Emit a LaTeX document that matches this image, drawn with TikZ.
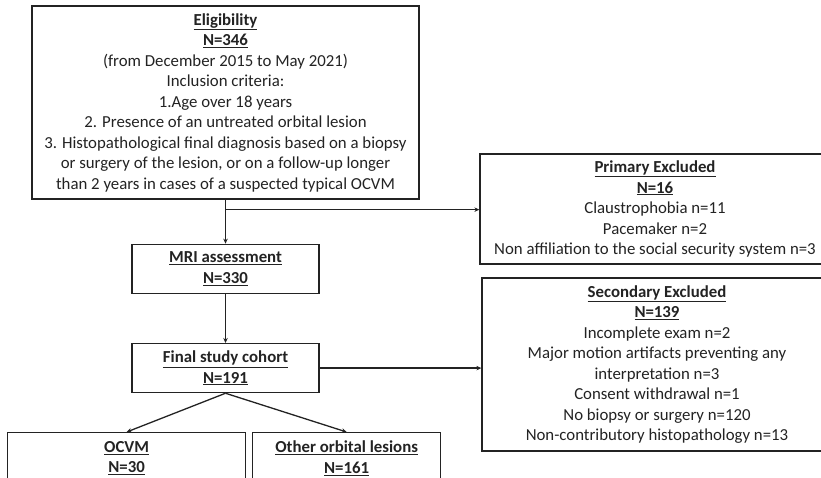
\documentclass[tikz,border=0pt]{standalone}
\usepackage{fontspec}
\setmainfont{Carlito}
\usetikzlibrary{arrows.meta,positioning,calc}
\definecolor{ink}{RGB}{35,35,35}
\tikzset{
  every picture/.style={color=ink, line width=1.3pt},
  box/.style={draw=ink, fill=white, inner sep=2pt, align=center, font=\fontsize{16.8}{20.5}\selectfont},
  stage/.style={box, minimum width=187pt, minimum height=49pt},
  excl/.style={box, minimum width=350pt},
  branch/.style={box, anchor=north west, minimum height=51pt},
  flow/.style={-{Stealth[length=5pt,width=4.5pt]}, line width=1.3pt},
}
\newcommand{\head}[1]{\underline{\textbf{#1}}}

\begin{document}
\begin{tikzpicture}[x=1pt, y=-1pt]
  \useasboundingbox (0,0) rectangle (821,478);
  \clip (0,0) rectangle (821,478);
  % main chain down the left side
  \node[box, minimum width=387pt, minimum height=193pt] (elig) at (225.5,102.5) {\head{Eligibility}\\ \head{N=346}\\ (from December 2015 to May 2021)\\ Inclusion criteria:\\ 1.Age over 18 years\\ 2. Presence of an untreated orbital lesion\\ 3. Histopathological final diagnosis based on a biopsy\\ or surgery of the lesion, or on a follow-up longer\\ than 2 years in cases of a suspected typical OCVM};
  \node[stage, below=44pt of elig] (mri) {\head{MRI assessment}\\ \head{N=330}};
  \node[stage, below=49pt of mri] (final) {\head{Final study cohort}\\ \head{N=191}};
  % exclusions on the right, cut by the page edge
  \node[excl, minimum height=110pt] (prim) at (655,209) {\head{Primary Excluded}\\ \head{N=16}\\ Claustrophobia n=11\\ Pacemaker n=2\\ Non affiliation to the social security system n=3};
  \node[excl, minimum height=173pt] (sec) at (657,364.5) {\head{Secondary Excluded}\\ \head{N=139}\\ Incomplete exam n=2\\ Major motion artifacts preventing any\\ interpretation n=3\\ Consent withdrawal n=1\\ No biopsy or surgery n=120\\ Non-contributory histopathology n=13};
  % the two groups at the bottom
  \node[branch, minimum width=238pt] (ocvm) at (7,432) {\head{OCVM}\\ \head{N=30}};
  \node[branch, minimum width=188pt] (other) at (252,432) {\head{Other orbital lesions}\\ \head{N=161}};
  \coordinate (split) at ($(elig.south)+(0,10)$);
  \draw[flow] (elig) -- (mri);
  \draw[flow] (split) -- (split -| prim.west);
  \draw[flow] (mri) -- (final);
  \draw[flow] (final) -- (final -| sec.west);
  \draw[flow] (final.south) -- (ocvm.north);
  \draw[flow] (final.south) -- (other.north);
\end{tikzpicture}
\end{document}
